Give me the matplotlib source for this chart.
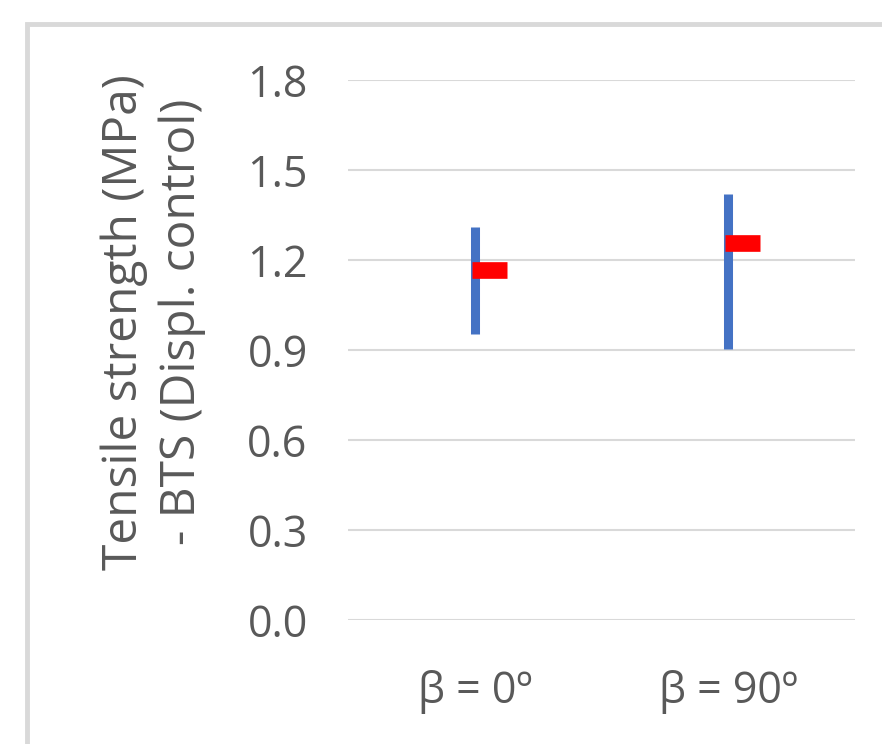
import matplotlib
matplotlib.use("Agg")
import matplotlib.pyplot as plt
from matplotlib.patches import Rectangle

categories = ["β = 0º", "β = 90º"]
high = [1.31, 1.42]
low = [0.953, 0.903]
mean = [1.167, 1.257]
yticks = [0.0, 0.3, 0.6, 0.9, 1.2, 1.5, 1.8]

plt.rcParams['font.family'] = ['Open Sans', 'DejaVu Sans']
fig = plt.figure(figsize=(8.82, 7.44), dpi=100)
fig.patches.append(Rectangle((27/882, -0.1), 1.2, 1 - 24/744 + 0.1, transform=fig.transFigure,
                             fill=False, edgecolor='#d9d9d9', lw=3.5, zorder=0))
ax = fig.add_axes([348/882, 1 - 620/744, 507/882, 540/744])
x = list(range(len(categories)))
ax.set_xlim(-0.5, len(categories) - 0.5)
ax.set_ylim(0, 1.8)
ax.set_yticks(yticks)
ax.set_yticklabels([f"{v:.1f}" for v in yticks])
ax.yaxis.grid(True, color='#d9d9d9', lw=1.5)
ax.set_axisbelow(True)
for s in ax.spines.values():
    s.set_visible(False)
ax.tick_params(length=0, labelsize=31, colors='#595959', pad=29)
ax.tick_params(axis='x', pad=36)
ax.set_xticks(x)
ax.set_xticklabels(categories)

ax.vlines(x, low, high, colors='#4472c4', lw=6.5, zorder=3)
for xi, m in zip(x, mean):
    ax.hlines(m, xi - 0.012, xi + 0.126, colors='#ff0000', lw=12, zorder=4)

fig.text(153/882, 1 - 322/744, "Tensile strength (MPa)\n- BTS (Displ. control)", rotation=90,
         ha='center', va='center', multialignment='center', fontsize=34.5, color='#595959',
         linespacing=1.3)
fig.savefig("out.png", dpi=100)
